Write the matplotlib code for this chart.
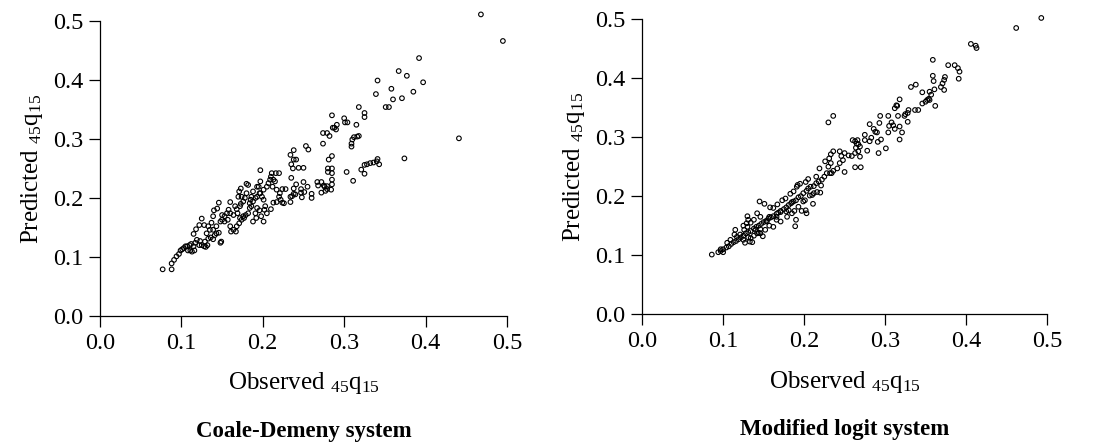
import matplotlib
matplotlib.use('Agg')
from matplotlib import pyplot as plt

plt.rcParams['font.family'] = ['Liberation Serif', 'DejaVu Serif']
plt.rcParams['mathtext.fontset'] = 'stix'

# Coale-Demeny system: observed vs predicted 45q15
cd_obs = [0.468, 0.495, 0.441, 0.392, 0.397, 0.341, 0.367, 0.377, 0.358, 0.385, 0.339, 0.360, 0.371,
          0.351, 0.355, 0.374, 0.318, 0.325, 0.325, 0.315, 0.312, 0.316, 0.318, 0.310, 0.309, 0.309,
          0.300, 0.301, 0.304, 0.291, 0.288, 0.286, 0.290, 0.285, 0.274, 0.279, 0.282, 0.274, 0.303,
          0.311, 0.321, 0.325, 0.325, 0.328, 0.332, 0.336, 0.340, 0.341, 0.343, 0.285, 0.281, 0.280,
          0.285, 0.285, 0.280, 0.285, 0.285, 0.284, 0.279, 0.253, 0.256, 0.238, 0.234, 0.241, 0.238,
          0.235, 0.237, 0.244, 0.250, 0.235, 0.250, 0.267, 0.272, 0.276, 0.272, 0.275, 0.268, 0.279,
          0.277, 0.255, 0.260, 0.260, 0.247, 0.247, 0.248, 0.251, 0.241, 0.238, 0.238, 0.234, 0.234,
          0.236, 0.240,
          0.197, 0.211, 0.216, 0.220, 0.210, 0.213, 0.215, 0.209, 0.207, 0.205, 0.212, 0.217, 0.228,
          0.224, 0.221, 0.220, 0.222, 0.226, 0.224, 0.217, 0.213, 0.210, 0.205, 0.202, 0.203, 0.201,
          0.199, 0.197, 0.201, 0.195, 0.197,
          0.077, 0.088, 0.088, 0.091, 0.094, 0.097, 0.099, 0.101, 0.103, 0.105, 0.107, 0.108, 0.111,
          0.113, 0.116, 0.115, 0.112, 0.110, 0.117, 0.119, 0.123, 0.122, 0.125, 0.128, 0.130, 0.132,
          0.129, 0.133, 0.136, 0.139, 0.141, 0.143, 0.146, 0.148, 0.149, 0.115, 0.118, 0.122, 0.125,
          0.128, 0.133, 0.137, 0.139, 0.140, 0.144, 0.146, 0.160, 0.131, 0.135, 0.139, 0.143, 0.148,
          0.150, 0.153, 0.157, 0.160, 0.161, 0.164, 0.167, 0.168, 0.171, 0.174, 0.176, 0.172, 0.169,
          0.168, 0.172, 0.173, 0.176, 0.178, 0.180, 0.182, 0.180, 0.173, 0.171, 0.174, 0.170, 0.166,
          0.164, 0.160, 0.158, 0.156, 0.153, 0.150, 0.186, 0.188, 0.191, 0.193, 0.188, 0.193, 0.196,
          0.193, 0.191, 0.192, 0.188, 0.201, 0.198, 0.196, 0.186, 0.184, 0.182, 0.179, 0.177, 0.184,
          0.185]
cd_pred = [0.511, 0.466, 0.301, 0.437, 0.396, 0.399, 0.415, 0.407, 0.385, 0.380, 0.376, 0.367, 0.369,
           0.354, 0.354, 0.267, 0.354, 0.344, 0.337, 0.324, 0.303, 0.304, 0.305, 0.299, 0.292, 0.287,
           0.335, 0.328, 0.328, 0.324, 0.319, 0.319, 0.316, 0.340, 0.310, 0.310, 0.305, 0.292, 0.244,
           0.229, 0.248, 0.241, 0.256, 0.257, 0.259, 0.260, 0.262, 0.266, 0.257, 0.271, 0.265, 0.250,
           0.250, 0.242, 0.244, 0.231, 0.223, 0.214, 0.220, 0.288, 0.282, 0.281, 0.273, 0.265, 0.265,
           0.257, 0.250, 0.251, 0.251, 0.234, 0.227, 0.227, 0.227, 0.219, 0.209, 0.221, 0.221, 0.215,
           0.212, 0.219, 0.207, 0.200, 0.215, 0.209, 0.201, 0.210, 0.223, 0.216, 0.207, 0.193, 0.202,
           0.203, 0.206,
           0.247, 0.242, 0.242, 0.242, 0.236, 0.231, 0.228, 0.231, 0.225, 0.219, 0.219, 0.214, 0.215,
           0.215, 0.208, 0.202, 0.197, 0.191, 0.192, 0.193, 0.192, 0.181, 0.174, 0.180, 0.186, 0.197,
           0.202, 0.208, 0.214, 0.219, 0.228,
           0.079, 0.079, 0.089, 0.095, 0.101, 0.105, 0.111, 0.113, 0.115, 0.118, 0.118, 0.111, 0.111,
           0.109, 0.111, 0.118, 0.122, 0.120, 0.124, 0.129, 0.127, 0.120, 0.120, 0.118, 0.117, 0.120,
           0.126, 0.131, 0.133, 0.130, 0.137, 0.140, 0.141, 0.124, 0.126, 0.139, 0.147, 0.154, 0.165,
           0.154, 0.152, 0.158, 0.169, 0.179, 0.182, 0.192, 0.193, 0.140, 0.146, 0.146, 0.152, 0.160,
           0.163, 0.160, 0.163, 0.152, 0.143, 0.146, 0.143, 0.152, 0.157, 0.163, 0.169, 0.166, 0.174,
           0.181, 0.186, 0.190, 0.194, 0.200, 0.208, 0.222, 0.224, 0.216, 0.211, 0.202, 0.202, 0.186,
           0.171, 0.174, 0.180, 0.174, 0.169, 0.171, 0.202, 0.194, 0.200, 0.202, 0.211, 0.219, 0.208,
           0.183, 0.174, 0.166, 0.160, 0.160, 0.169, 0.179, 0.186, 0.183, 0.174, 0.171, 0.166, 0.191,
           0.197]

# Modified logit system
ml_obs = [0.493, 0.462, 0.406, 0.412, 0.413, 0.359, 0.378, 0.386, 0.390, 0.392, 0.391, 0.359, 0.360,
          0.361, 0.373, 0.374, 0.371, 0.369, 0.373, 0.362, 0.332, 0.338, 0.346, 0.355, 0.357, 0.354,
          0.352, 0.350, 0.346, 0.355, 0.318, 0.314, 0.315, 0.312, 0.337, 0.341, 0.329, 0.325, 0.324,
          0.328, 0.328, 0.318, 0.321, 0.318, 0.312, 0.308, 0.310, 0.316, 0.304, 0.305, 0.304, 0.301,
          0.294, 0.293, 0.290, 0.295, 0.291, 0.292, 0.281, 0.286, 0.288, 0.283, 0.281, 0.275, 0.275,
          0.269, 0.278, 0.265, 0.230, 0.236, 0.260, 0.263, 0.266, 0.267, 0.264, 0.263, 0.267, 0.269,
          0.263, 0.270, 0.259, 0.255, 0.244, 0.246, 0.250, 0.248, 0.244, 0.250, 0.241, 0.236, 0.233,
          0.231, 0.230, 0.233, 0.236, 0.234, 0.232, 0.226,
          0.228, 0.225, 0.222, 0.218, 0.215, 0.212, 0.208, 0.205, 0.203, 0.199, 0.196, 0.193, 0.190,
          0.187, 0.184, 0.181, 0.178, 0.175, 0.171, 0.168, 0.166, 0.162, 0.159, 0.156, 0.153, 0.150,
          0.147, 0.144, 0.141, 0.138, 0.134, 0.131, 0.128, 0.125, 0.122, 0.119, 0.116, 0.113, 0.110,
          0.107, 0.104, 0.100, 0.097, 0.094,
          0.086, 0.097, 0.100, 0.115, 0.114, 0.125, 0.130, 0.131, 0.129, 0.127, 0.133, 0.136, 0.134,
          0.140, 0.142, 0.144, 0.149, 0.146, 0.145, 0.151, 0.158, 0.157, 0.154, 0.157, 0.166, 0.166,
          0.171, 0.178, 0.181, 0.185, 0.188, 0.190, 0.189, 0.197, 0.202, 0.203, 0.199, 0.207, 0.211,
          0.212, 0.216, 0.220, 0.221, 0.219, 0.215, 0.202, 0.205, 0.192,
          0.162, 0.167, 0.173, 0.177, 0.183, 0.187, 0.191, 0.195, 0.146, 0.142, 0.138, 0.134, 0.130,
          0.126, 0.121, 0.117, 0.109, 0.105,
          0.125, 0.131, 0.138, 0.146, 0.152, 0.162, 0.171, 0.179, 0.185, 0.193, 0.201, 0.210]
ml_pred = [0.502, 0.485, 0.458, 0.455, 0.451, 0.431, 0.422, 0.422, 0.417, 0.411, 0.399, 0.404, 0.395,
           0.381, 0.397, 0.402, 0.391, 0.385, 0.380, 0.353, 0.385, 0.389, 0.376, 0.377, 0.372, 0.365,
           0.363, 0.360, 0.357, 0.363, 0.364, 0.354, 0.353, 0.349, 0.346, 0.346, 0.346, 0.339, 0.336,
           0.341, 0.326, 0.318, 0.308, 0.296, 0.314, 0.325, 0.320, 0.336, 0.336, 0.319, 0.308, 0.281,
           0.336, 0.324, 0.308, 0.296, 0.292, 0.273, 0.322, 0.314, 0.309, 0.299, 0.293, 0.304, 0.295,
           0.284, 0.277, 0.289, 0.325, 0.336, 0.295, 0.293, 0.295, 0.288, 0.282, 0.273, 0.276, 0.267,
           0.249, 0.249, 0.268, 0.269, 0.276, 0.268, 0.273, 0.261, 0.256, 0.241, 0.247, 0.276, 0.271,
           0.264, 0.250, 0.256, 0.243, 0.239, 0.239, 0.259,
           0.239, 0.233, 0.228, 0.225, 0.222, 0.217, 0.216, 0.213, 0.209, 0.205, 0.200, 0.198, 0.193,
           0.191, 0.188, 0.185, 0.181, 0.178, 0.175, 0.172, 0.170, 0.166, 0.164, 0.162, 0.158, 0.156,
           0.153, 0.150, 0.148, 0.145, 0.141, 0.139, 0.137, 0.133, 0.130, 0.127, 0.124, 0.122, 0.119,
           0.115, 0.113, 0.110, 0.107, 0.105,
           0.101, 0.110, 0.105, 0.143, 0.135, 0.150, 0.166, 0.160, 0.154, 0.121, 0.123, 0.122, 0.129,
           0.143, 0.137, 0.138, 0.132, 0.144, 0.191, 0.187, 0.181, 0.165, 0.157, 0.150, 0.165, 0.160,
           0.173, 0.174, 0.176, 0.190, 0.175, 0.160, 0.149, 0.175, 0.176, 0.171, 0.191, 0.201, 0.187,
           0.205, 0.207, 0.206, 0.218, 0.247, 0.233, 0.224, 0.229, 0.219,
           0.180, 0.186, 0.193, 0.196, 0.204, 0.208, 0.216, 0.221, 0.165, 0.171, 0.160, 0.155, 0.148,
           0.143, 0.135, 0.131, 0.126, 0.121,
           0.126, 0.130, 0.133, 0.137, 0.143, 0.148, 0.157, 0.165, 0.171, 0.182, 0.193, 0.202]

ticks = [0.0, 0.1, 0.2, 0.3, 0.4, 0.5]
titles = ['Coale-Demeny system', 'Modified logit system']

fig = plt.figure(figsize=(10.94, 4.45), dpi=100)
ax1 = fig.add_axes([0.0914, 0.290, 0.372, 0.663])
ax2 = fig.add_axes([0.587, 0.294, 0.370, 0.663])

for ax, xs, ys, title in [(ax1, cd_obs, cd_pred, titles[0]), (ax2, ml_obs, ml_pred, titles[1])]:
    ax.scatter(xs, ys, s=11, facecolors='none', edgecolors='black', linewidths=0.8, clip_on=False)
    ax.set_xlim(0, 0.5)
    ax.set_ylim(0, 0.5)
    ax.set_xticks(ticks)
    ax.set_yticks(ticks)
    ax.set_xticklabels(['%.1f' % t for t in ticks])
    ax.set_yticklabels(['%.1f' % t for t in ticks])
    ax.spines['top'].set_visible(False)
    ax.spines['right'].set_visible(False)
    ax.spines['left'].set_linewidth(0.9)
    ax.spines['bottom'].set_linewidth(0.9)
    ax.tick_params(direction='out', length=8, width=0.9, labelsize=17.5, pad=4)
    ax.set_xlabel(r'Observed $\mathregular{_{45}q_{15}}$', fontsize=18, labelpad=12)
    ax.set_ylabel(r'Predicted $\mathregular{_{45}q_{15}}$', fontsize=18, labelpad=6)
    ax.text(0.5, -0.39, title, transform=ax.transAxes, ha='center', va='center',
            fontsize=16.5, fontweight='bold')

plt.savefig('out.png', dpi=100)
